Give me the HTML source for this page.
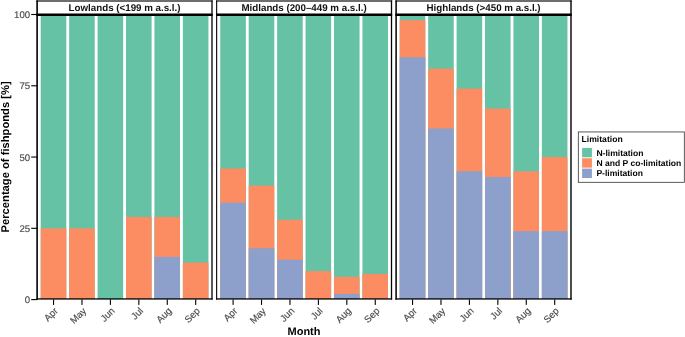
<!DOCTYPE html><html><head><meta charset="utf-8"><style>html,body{margin:0;padding:0;background:#fff;overflow:hidden;}svg{display:block;}text{font-family:"Liberation Sans",sans-serif;text-rendering:geometricPrecision;}</style></head><body>
<svg width="685" height="337" viewBox="0 0 685 337">
<rect x="0" y="0" width="685" height="337" fill="#fff"/>
<rect x="37.10" y="0" width="174.90" height="14" fill="#fff"/>
<rect x="40.71" y="15.00" width="25.59" height="284.00" fill="#66C2A5"/>
<rect x="40.71" y="228.33" width="25.59" height="70.67" fill="#FC8D62"/>
<rect x="53.00" y="299.4" width="1.1" height="5.5" fill="#000"/>
<rect x="69.14" y="15.00" width="25.59" height="284.00" fill="#66C2A5"/>
<rect x="69.14" y="228.33" width="25.59" height="70.67" fill="#FC8D62"/>
<rect x="81.43" y="299.4" width="1.1" height="5.5" fill="#000"/>
<rect x="97.57" y="15.00" width="25.59" height="284.00" fill="#66C2A5"/>
<rect x="109.86" y="299.4" width="1.1" height="5.5" fill="#000"/>
<rect x="126.00" y="15.00" width="25.59" height="284.00" fill="#66C2A5"/>
<rect x="126.00" y="216.92" width="25.59" height="82.08" fill="#FC8D62"/>
<rect x="138.29" y="299.4" width="1.1" height="5.5" fill="#000"/>
<rect x="154.43" y="15.00" width="25.59" height="284.00" fill="#66C2A5"/>
<rect x="154.43" y="216.92" width="25.59" height="82.08" fill="#FC8D62"/>
<rect x="154.43" y="256.84" width="25.59" height="42.16" fill="#8DA0CB"/>
<rect x="166.72" y="299.4" width="1.1" height="5.5" fill="#000"/>
<rect x="182.86" y="15.00" width="25.59" height="284.00" fill="#66C2A5"/>
<rect x="182.86" y="262.54" width="25.59" height="36.46" fill="#FC8D62"/>
<rect x="195.15" y="299.4" width="1.1" height="5.5" fill="#000"/>
<rect x="36.30" y="0.43" width="1.60" height="299.17" fill="#000"/>
<rect x="211.35" y="0.43" width="1.30" height="299.17" fill="#000"/>
<rect x="36.30" y="0.43" width="176.35" height="1.14" fill="#000"/>
<rect x="36.30" y="13.5" width="176.35" height="2.5" fill="#000"/>
<rect x="36.30" y="298.3" width="176.35" height="1.3" fill="#000"/>
<rect x="216.65" y="0" width="174.85" height="14" fill="#fff"/>
<rect x="220.26" y="15.00" width="25.59" height="284.00" fill="#66C2A5"/>
<rect x="220.26" y="168.45" width="25.59" height="130.55" fill="#FC8D62"/>
<rect x="220.26" y="202.67" width="25.59" height="96.33" fill="#8DA0CB"/>
<rect x="232.55" y="299.4" width="1.1" height="5.5" fill="#000"/>
<rect x="248.69" y="15.00" width="25.59" height="284.00" fill="#66C2A5"/>
<rect x="248.69" y="185.56" width="25.59" height="113.44" fill="#FC8D62"/>
<rect x="248.69" y="248.28" width="25.59" height="50.72" fill="#8DA0CB"/>
<rect x="260.98" y="299.4" width="1.1" height="5.5" fill="#000"/>
<rect x="277.12" y="15.00" width="25.59" height="284.00" fill="#66C2A5"/>
<rect x="277.12" y="219.77" width="25.59" height="79.23" fill="#FC8D62"/>
<rect x="277.12" y="259.69" width="25.59" height="39.31" fill="#8DA0CB"/>
<rect x="289.41" y="299.4" width="1.1" height="5.5" fill="#000"/>
<rect x="305.55" y="15.00" width="25.59" height="284.00" fill="#66C2A5"/>
<rect x="305.55" y="271.09" width="25.59" height="27.91" fill="#FC8D62"/>
<rect x="317.84" y="299.4" width="1.1" height="5.5" fill="#000"/>
<rect x="333.98" y="15.00" width="25.59" height="284.00" fill="#66C2A5"/>
<rect x="333.98" y="276.79" width="25.59" height="22.21" fill="#FC8D62"/>
<rect x="333.98" y="293.90" width="25.59" height="5.10" fill="#8DA0CB"/>
<rect x="346.27" y="299.4" width="1.1" height="5.5" fill="#000"/>
<rect x="362.41" y="15.00" width="25.59" height="284.00" fill="#66C2A5"/>
<rect x="362.41" y="273.94" width="25.59" height="25.06" fill="#FC8D62"/>
<rect x="374.70" y="299.4" width="1.1" height="5.5" fill="#000"/>
<rect x="216.10" y="0.43" width="1.10" height="299.17" fill="#000"/>
<rect x="390.85" y="0.43" width="1.30" height="299.17" fill="#000"/>
<rect x="216.10" y="0.43" width="176.05" height="1.14" fill="#000"/>
<rect x="216.10" y="13.5" width="176.05" height="2.5" fill="#000"/>
<rect x="216.10" y="298.3" width="176.05" height="1.3" fill="#000"/>
<rect x="396.10" y="0" width="174.90" height="14" fill="#fff"/>
<rect x="399.71" y="15.00" width="25.59" height="284.00" fill="#66C2A5"/>
<rect x="399.71" y="20.20" width="25.59" height="278.80" fill="#FC8D62"/>
<rect x="399.71" y="57.26" width="25.59" height="241.74" fill="#8DA0CB"/>
<rect x="412.00" y="299.4" width="1.1" height="5.5" fill="#000"/>
<rect x="428.14" y="15.00" width="25.59" height="284.00" fill="#66C2A5"/>
<rect x="428.14" y="68.67" width="25.59" height="230.33" fill="#FC8D62"/>
<rect x="428.14" y="128.54" width="25.59" height="170.46" fill="#8DA0CB"/>
<rect x="440.43" y="299.4" width="1.1" height="5.5" fill="#000"/>
<rect x="456.57" y="15.00" width="25.59" height="284.00" fill="#66C2A5"/>
<rect x="456.57" y="88.63" width="25.59" height="210.37" fill="#FC8D62"/>
<rect x="456.57" y="171.31" width="25.59" height="127.69" fill="#8DA0CB"/>
<rect x="468.86" y="299.4" width="1.1" height="5.5" fill="#000"/>
<rect x="485.00" y="15.00" width="25.59" height="284.00" fill="#66C2A5"/>
<rect x="485.00" y="108.58" width="25.59" height="190.42" fill="#FC8D62"/>
<rect x="485.00" y="177.01" width="25.59" height="121.99" fill="#8DA0CB"/>
<rect x="497.29" y="299.4" width="1.1" height="5.5" fill="#000"/>
<rect x="513.43" y="15.00" width="25.59" height="284.00" fill="#66C2A5"/>
<rect x="513.43" y="171.31" width="25.59" height="127.69" fill="#FC8D62"/>
<rect x="513.43" y="231.18" width="25.59" height="67.82" fill="#8DA0CB"/>
<rect x="525.72" y="299.4" width="1.1" height="5.5" fill="#000"/>
<rect x="541.86" y="15.00" width="25.59" height="284.00" fill="#66C2A5"/>
<rect x="541.86" y="157.05" width="25.59" height="141.95" fill="#FC8D62"/>
<rect x="541.86" y="231.18" width="25.59" height="67.82" fill="#8DA0CB"/>
<rect x="554.15" y="299.4" width="1.1" height="5.5" fill="#000"/>
<rect x="395.35" y="0.43" width="1.50" height="299.17" fill="#000"/>
<rect x="570.30" y="0.43" width="1.40" height="299.17" fill="#000"/>
<rect x="395.35" y="0.43" width="176.35" height="1.14" fill="#000"/>
<rect x="395.35" y="13.5" width="176.35" height="2.5" fill="#000"/>
<rect x="395.35" y="298.3" width="176.35" height="1.3" fill="#000"/>
<rect x="31.2" y="299.05" width="6" height="1.1" fill="#000"/>
<rect x="31.2" y="227.78" width="6" height="1.1" fill="#000"/>
<rect x="31.2" y="156.50" width="6" height="1.1" fill="#000"/>
<rect x="31.2" y="85.23" width="6" height="1.1" fill="#000"/>
<rect x="31.2" y="13.95" width="6" height="1.1" fill="#000"/>
<rect x="578.3" y="131.95" width="106" height="50.35" fill="#fff" stroke="#333" stroke-width="0.8"/>
<rect x="582.1" y="147.90" width="9.8" height="9.4" fill="#66C2A5"/>
<rect x="582.1" y="158.25" width="9.8" height="9.4" fill="#FC8D62"/>
<rect x="582.1" y="168.60" width="9.8" height="9.4" fill="#8DA0CB"/>
<g opacity="0.999">
<text x="58.50" y="311.50" font-size="9.6" fill="#4D4D4D" stroke="#4D4D4D" stroke-width="0.18" text-anchor="end" transform="rotate(-45 58.50 311.50)">Apr</text>
<text x="86.93" y="311.50" font-size="9.6" fill="#4D4D4D" stroke="#4D4D4D" stroke-width="0.18" text-anchor="end" transform="rotate(-45 86.93 311.50)">May</text>
<text x="115.36" y="311.50" font-size="9.6" fill="#4D4D4D" stroke="#4D4D4D" stroke-width="0.18" text-anchor="end" transform="rotate(-45 115.36 311.50)">Jun</text>
<text x="143.79" y="311.50" font-size="9.6" fill="#4D4D4D" stroke="#4D4D4D" stroke-width="0.18" text-anchor="end" transform="rotate(-45 143.79 311.50)">Jul</text>
<text x="172.22" y="311.50" font-size="9.6" fill="#4D4D4D" stroke="#4D4D4D" stroke-width="0.18" text-anchor="end" transform="rotate(-45 172.22 311.50)">Aug</text>
<text x="200.65" y="311.50" font-size="9.6" fill="#4D4D4D" stroke="#4D4D4D" stroke-width="0.18" text-anchor="end" transform="rotate(-45 200.65 311.50)">Sep</text>
<text x="124.55" y="10.9" font-size="9.75" font-weight="bold" fill="#111" text-anchor="middle">Lowlands (&lt;199 m a.s.l.)</text>
<text x="238.05" y="311.50" font-size="9.6" fill="#4D4D4D" stroke="#4D4D4D" stroke-width="0.18" text-anchor="end" transform="rotate(-45 238.05 311.50)">Apr</text>
<text x="266.48" y="311.50" font-size="9.6" fill="#4D4D4D" stroke="#4D4D4D" stroke-width="0.18" text-anchor="end" transform="rotate(-45 266.48 311.50)">May</text>
<text x="294.91" y="311.50" font-size="9.6" fill="#4D4D4D" stroke="#4D4D4D" stroke-width="0.18" text-anchor="end" transform="rotate(-45 294.91 311.50)">Jun</text>
<text x="323.34" y="311.50" font-size="9.6" fill="#4D4D4D" stroke="#4D4D4D" stroke-width="0.18" text-anchor="end" transform="rotate(-45 323.34 311.50)">Jul</text>
<text x="351.77" y="311.50" font-size="9.6" fill="#4D4D4D" stroke="#4D4D4D" stroke-width="0.18" text-anchor="end" transform="rotate(-45 351.77 311.50)">Aug</text>
<text x="380.20" y="311.50" font-size="9.6" fill="#4D4D4D" stroke="#4D4D4D" stroke-width="0.18" text-anchor="end" transform="rotate(-45 380.20 311.50)">Sep</text>
<text x="304.07" y="10.9" font-size="9.75" font-weight="bold" fill="#111" text-anchor="middle">Midlands (200–449 m a.s.l.)</text>
<text x="417.50" y="311.50" font-size="9.6" fill="#4D4D4D" stroke="#4D4D4D" stroke-width="0.18" text-anchor="end" transform="rotate(-45 417.50 311.50)">Apr</text>
<text x="445.93" y="311.50" font-size="9.6" fill="#4D4D4D" stroke="#4D4D4D" stroke-width="0.18" text-anchor="end" transform="rotate(-45 445.93 311.50)">May</text>
<text x="474.36" y="311.50" font-size="9.6" fill="#4D4D4D" stroke="#4D4D4D" stroke-width="0.18" text-anchor="end" transform="rotate(-45 474.36 311.50)">Jun</text>
<text x="502.79" y="311.50" font-size="9.6" fill="#4D4D4D" stroke="#4D4D4D" stroke-width="0.18" text-anchor="end" transform="rotate(-45 502.79 311.50)">Jul</text>
<text x="531.22" y="311.50" font-size="9.6" fill="#4D4D4D" stroke="#4D4D4D" stroke-width="0.18" text-anchor="end" transform="rotate(-45 531.22 311.50)">Aug</text>
<text x="559.65" y="311.50" font-size="9.6" fill="#4D4D4D" stroke="#4D4D4D" stroke-width="0.18" text-anchor="end" transform="rotate(-45 559.65 311.50)">Sep</text>
<text x="483.55" y="10.9" font-size="9.75" font-weight="bold" fill="#111" text-anchor="middle">Highlands (&gt;450 m a.s.l.)</text>
<text x="30.1" y="303.05" font-size="9.6" fill="#4D4D4D" stroke="#4D4D4D" stroke-width="0.18" text-anchor="end">0</text>
<text x="30.1" y="231.78" font-size="9.6" fill="#4D4D4D" stroke="#4D4D4D" stroke-width="0.18" text-anchor="end">25</text>
<text x="30.1" y="160.50" font-size="9.6" fill="#4D4D4D" stroke="#4D4D4D" stroke-width="0.18" text-anchor="end">50</text>
<text x="30.1" y="89.23" font-size="9.6" fill="#4D4D4D" stroke="#4D4D4D" stroke-width="0.18" text-anchor="end">75</text>
<text x="30.1" y="17.95" font-size="9.6" fill="#4D4D4D" stroke="#4D4D4D" stroke-width="0.18" text-anchor="end">100</text>
<text x="8.7" y="156.9" font-size="11.2" font-weight="bold" fill="#000" text-anchor="middle" transform="rotate(-90 8.7 156.9)">Percentage of fishponds [%]</text>
<text x="304" y="335.1" font-size="11" font-weight="bold" fill="#000" text-anchor="middle">Month</text>
<text x="581.6" y="142.2" font-size="8.6" font-weight="bold" fill="#000">Limitation</text>
<text x="596.4" y="155.50" font-size="8.55" font-weight="bold" fill="#000">N-limitation</text>
<text x="596.4" y="165.85" font-size="8.55" font-weight="bold" fill="#000">N and P co-limitation</text>
<text x="596.4" y="176.20" font-size="8.55" font-weight="bold" fill="#000">P-limitation</text>
</g>
</svg></body></html>
